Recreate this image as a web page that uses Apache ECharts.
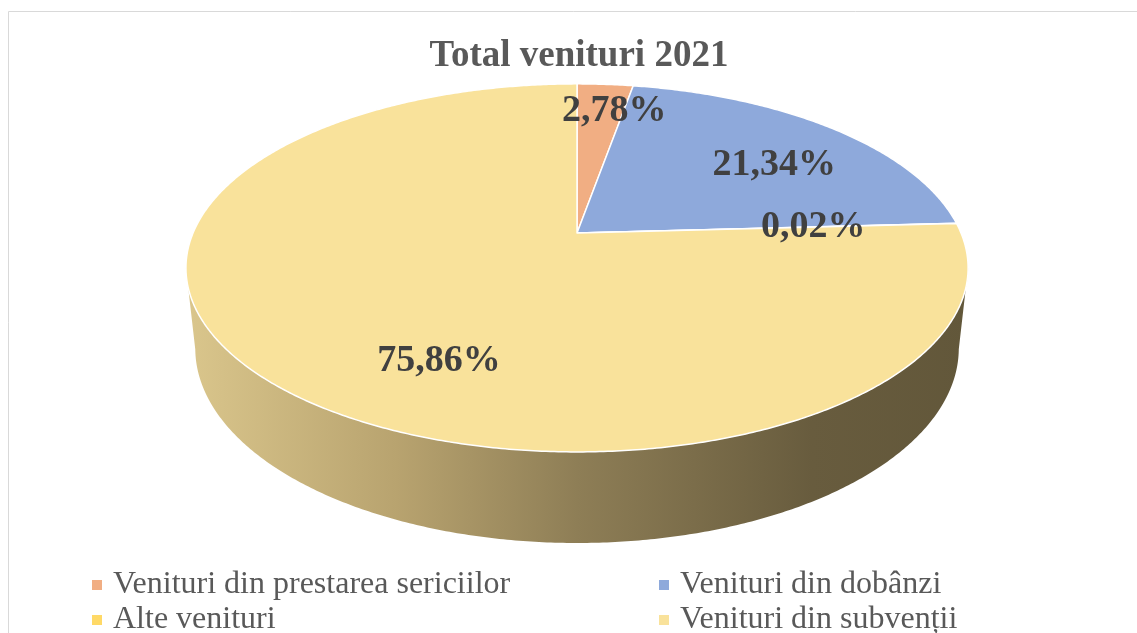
<!DOCTYPE html>
<html>
<head>
<meta charset="utf-8">
<script src="https://cdn.jsdelivr.net/npm/echarts@6/dist/echarts.min.js"></script>
<style>
  html, body { margin: 0; padding: 0; background: #fff; }
  #chart { width: 1137px; height: 633px; }
</style>
</head>
<body>
<div id="chart"></div>
<script>
const categories = ['Venituri din prestarea sericiilor', 'Venituri din dobânzi', 'Alte venituri', 'Venituri din subvenții'];
const shares = [2.78, 21.34, 0.02, 75.86];
const sliceColors = ['#F1AE83', '#8EA9DB', '#FFD966', '#F9E29B'];
// label placement on the disk (fraction of radius, degrees turned from mid-angle)
const labelRadius = [0.8, 0.69, 0.62, 0.71];
const labelTurn = [3, 5, 0, -17];

// simple perspective camera for the tilted disk
const sinA = 0.462, cosA = 0.887, dist = 4.67, thick = 0.238;
const tangentDeg = Math.acos(-cosA / dist) * 180 / Math.PI;
const total = shares.reduce((a, b) => a + b, 0);

function project(W, H, deg, r, y) {
    const t = deg * Math.PI / 180;
    const X = r * Math.sin(t), Z = r * Math.cos(t);
    const yp = y * cosA + Z * sinA;
    const zp = Z * cosA - y * sinA;
    const k = dist / (dist + zp);
    const S = W * 0.3377;
    return [W * 0.5075 + S * X * k, H * 0.368 - S * yp * k];
}

function arcPts(W, H, a, b, y) {
    const n = Math.max(2, Math.ceil((b - a) / 0.5));
    const pts = [];
    for (let i = 0; i <= n; i++) pts.push(project(W, H, a + (b - a) * i / n, 1, y));
    return pts;
}

function sliceRenderer(idx) {
    return function(params, api) {
        const W = api.getWidth(), H = api.getHeight();
        const start = shares.slice(0, idx).reduce((a, b) => a + b, 0) / total * 360;
        const end = start + api.value(0) / total * 360;
        const children = [];

        const a = Math.max(start, tangentDeg), b = Math.min(end, 360 - tangentDeg);
        if (b > a) {
            const top = arcPts(W, H, a, b, 0);
            const bottom = arcPts(W, H, a, b, -thick).reverse();
            children.push({
                type: 'polygon',
                shape: { points: top.concat(bottom) },
                style: {
                    fill: {
                        type: 'linear', x: 0, y: 0, x2: 1, y2: 0,
                        colorStops: [
                            { offset: 0, color: '#DAC68C' },
                            { offset: 0.27, color: '#B8A36F' },
                            { offset: 0.5, color: '#8E7E56' },
                            { offset: 0.8, color: '#685C3E' },
                            { offset: 1, color: '#62573A' }
                        ]
                    }
                }
            });
        }

        const face = [project(W, H, 0, 0, 0)].concat(arcPts(W, H, start, end, 0));
        children.push({
            type: 'polygon',
            shape: { points: face },
            style: { fill: sliceColors[idx], stroke: '#ffffff', lineWidth: 1.5, lineJoin: 'round' }
        });

        const mid = (start + end) / 2 + labelTurn[idx];
        const lp = project(W, H, mid, labelRadius[idx], 0);
        children.push({
            type: 'text',
            x: lp[0], y: lp[1],
            z2: 10,
            style: {
                text: api.value(0).toFixed(2).replace('.', ',') + '%',
                fill: '#404040',
                font: 'bold 38px "Liberation Serif"',
                align: 'center',
                verticalAlign: 'middle'
            }
        });
        return { type: 'group', children: children };
    };
}

const chart = echarts.init(document.getElementById('chart'));

const legendText = { fontFamily: 'Liberation Serif', fontSize: 32, color: '#595959', padding: [0, 0, 0, 6] };

chart.setOption({
    animation: false,
    title: {
        text: 'Total venituri 2021',
        left: 574, top: 33, textAlign: 'center',
        textStyle: { fontFamily: 'Liberation Serif', fontSize: 37, fontWeight: 'bold', color: '#595959' }
    },
    graphic: [{
        type: 'rect', silent: true,
        shape: { x: 8.5, y: 11.5, width: 1200, height: 700 },
        style: { fill: 'none', stroke: '#D9D9D9', lineWidth: 1 }
    }],
    legend: [
        {
            data: [categories[0], categories[2]],
            orient: 'vertical', left: 92, top: 569, width: 480, height: 120, itemGap: 3, padding: 0,
            icon: 'rect', itemWidth: 10, itemHeight: 10, selectedMode: false,
            textStyle: legendText
        },
        {
            data: [categories[1], categories[3]],
            orient: 'vertical', left: 659, top: 569, width: 420, height: 120, itemGap: 3, padding: 0,
            icon: 'rect', itemWidth: 10, itemHeight: 10, selectedMode: false,
            textStyle: legendText
        }
    ],
    series: categories.map((name, i) => ({
        type: 'custom',
        name: name,
        coordinateSystem: 'none',
        itemStyle: { color: sliceColors[i] },
        renderItem: sliceRenderer(i),
        data: [[shares[i]]],
        silent: true
    }))
});
</script>
</body>
</html>
